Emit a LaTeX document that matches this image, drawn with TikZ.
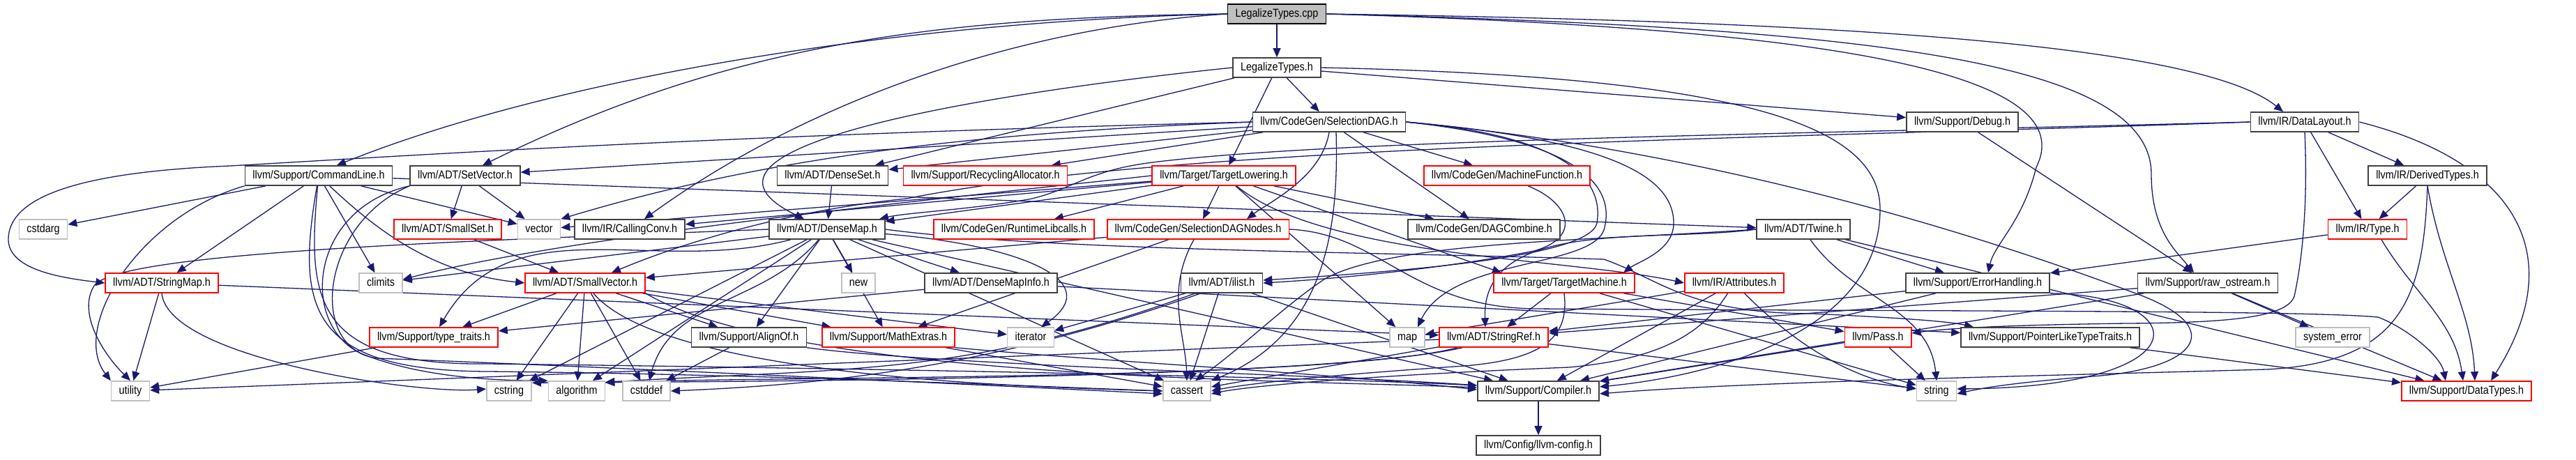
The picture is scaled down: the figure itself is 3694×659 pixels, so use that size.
\documentclass[tikz,border=0pt]{standalone}
\usepackage{fontspec}
\newfontfamily\dotfont{Liberation Sans}[FakeStretch=0.87]
\usetikzlibrary{arrows.meta,backgrounds}
\definecolor{edgeblue}{HTML}{191970}
\definecolor{grey25}{HTML}{404040}
\definecolor{grey75}{HTML}{BFBFBF}
\tikzset{
  hdr/.style={draw=grey25, fill=white, line width=1.6pt, minimum height=28pt, inner xsep=11pt, inner ysep=0pt,
    text height=12pt, text depth=3.5pt, font=\dotfont\fontsize{16.5}{18}\selectfont},
  roothdr/.style={hdr, draw=black, fill=grey75},
  cuthdr/.style={hdr, draw=red},
  syshdr/.style={hdr, draw=grey75},
  inc/.style={draw=edgeblue, line width=1.3pt, -{Triangle[length=13pt,width=11pt]}},
}

\begin{document}
\begin{tikzpicture}[x=1pt,y=1pt]
\useasboundingbox (0,0) rectangle (3694,-659);

\node[roothdr] (cpp) at (1831,-20) {LegalizeTypes.cpp};
\node[hdr] (lth) at (1831,-97) {LegalizeTypes.h};
\node[hdr] (sdag) at (1906,-175) {llvm/CodeGen/SelectionDAG.h};
\node[hdr] (debug) at (2814,-175) {llvm/Support/Debug.h};
\node[hdr] (dlayout) at (3305,-175) {llvm/IR/DataLayout.h};
\node[hdr] (cmdline) at (457,-252) {llvm/Support/CommandLine.h};
\node[hdr] (setvec) at (667,-252) {llvm/ADT/SetVector.h};
\node[hdr] (denseset) at (1194,-252) {llvm/ADT/DenseSet.h};
\node[cuthdr] (recyc) at (1413,-252) {llvm/Support/RecyclingAllocator.h};
\node[cuthdr] (tlower) at (1755,-252) {llvm/Target/TargetLowering.h};
\node[cuthdr] (mfunc) at (2161,-252) {llvm/CodeGen/MachineFunction.h};
\node[hdr] (dtypes) at (3481,-252) {llvm/IR/DerivedTypes.h};
\node[syshdr] (cstdarg) at (62,-329) {cstdarg};
\node[cuthdr] (smallset) at (642,-329) {llvm/ADT/SmallSet.h};
\node[syshdr] (vector) at (773,-329) {vector};
\node[hdr] (cconv) at (903,-329) {llvm/IR/CallingConv.h};
\node[hdr] (densemap) at (1186,-329) {llvm/ADT/DenseMap.h};
\node[cuthdr] (rtlib) at (1454,-329) {llvm/CodeGen/RuntimeLibcalls.h};
\node[cuthdr] (sdnodes) at (1718,-329) {llvm/CodeGen/SelectionDAGNodes.h};
\node[hdr] (dagcomb) at (2128,-329) {llvm/CodeGen/DAGCombine.h};
\node[hdr] (twine) at (2586,-329) {llvm/ADT/Twine.h};
\node[cuthdr] (type) at (3395,-329) {llvm/IR/Type.h};
\node[cuthdr] (strmap) at (232,-406) {llvm/ADT/StringMap.h};
\node[syshdr] (climits) at (546,-406) {climits};
\node[cuthdr] (smallvec) at (839,-406) {llvm/ADT/SmallVector.h};
\node[syshdr] (new) at (1231,-406) {new};
\node[hdr] (dminfo) at (1421,-406) {llvm/ADT/DenseMapInfo.h};
\node[hdr] (ilist) at (1752,-406) {llvm/ADT/ilist.h};
\node[cuthdr] (tmach) at (2243,-406) {llvm/Target/TargetMachine.h};
\node[cuthdr] (attrs) at (2487,-406) {llvm/IR/Attributes.h};
\node[hdr] (errh) at (2836,-406) {llvm/Support/ErrorHandling.h};
\node[hdr] (rawos) at (3166,-406) {llvm/Support/raw\_ostream.h};
\node[cuthdr] (ttraits) at (622,-484) {llvm/Support/type\_traits.h};
\node[hdr] (alignof) at (1074,-484) {llvm/Support/AlignOf.h};
\node[cuthdr] (mathex) at (1274,-484) {llvm/Support/MathExtras.h};
\node[syshdr] (iterator) at (1478,-484) {iterator};
\node[syshdr] (map) at (2018,-484) {map};
\node[cuthdr] (strref) at (2142,-484) {llvm/ADT/StringRef.h};
\node[cuthdr] (pass) at (2693,-484) {llvm/Pass.h};
\node[hdr] (pltt) at (2940,-484) {llvm/Support/PointerLikeTypeTraits.h};
\node[syshdr] (syserr) at (3345,-484) {system\_error};
\node[syshdr] (utility) at (187,-561) {utility};
\node[syshdr] (cstring) at (730,-561) {cstring};
\node[syshdr] (algorithm) at (827,-561) {algorithm};
\node[syshdr] (cstddef) at (927,-561) {cstddef};
\node[syshdr] (cassert) at (1702,-561) {cassert};
\node[hdr] (compiler) at (2206,-561) {llvm/Support/Compiler.h};
\node[syshdr] (string) at (2777,-561) {string};
\node[cuthdr] (datatypes) at (3537,-561) {llvm/Support/DataTypes.h};
\node[hdr] (llvmcfg) at (2206,-639) {llvm/Config/llvm-config.h};

\begin{scope}[on background layer]
\draw[inc] (cpp) -- (lth);
\draw[inc] (cpp.west) .. controls (1300,-30) and (800,-110) .. ([xshift=26pt]cmdline.north);
\draw[inc] (cpp.west) .. controls (1350,-25) and (1050,-60) .. ([xshift=25pt]setvec.north);
\draw[inc] (cpp.west) .. controls (1450,-40) and (1150,-150) .. ([xshift=21pt]cconv.north);
\draw[inc] (cpp.east) .. controls (2600,-30) and (3150,-60) .. ([xshift=-31pt]dlayout.north);
\draw[inc] (cpp.east) .. controls (2700,-40) and (3085,-90) .. (3085,-250) .. controls (3085,-330) and (3120,-360) .. ([xshift=-20pt]rawos.north);
\draw[inc] (cpp.east) .. controls (2600,-40) and (2990,-100) .. (2920,-240) .. controls (2900,-320) and (2860,-350) .. ([xshift=15pt]errh.north);

\draw[inc] (lth) -- (sdag);
\draw[inc] (lth) -- (tlower);
\draw[inc] (lth) -- (denseset);
\draw[inc] (lth.west) .. controls (1524,-122) and (920,-200) .. ([xshift=-33pt]densemap.north);
\draw[inc] (lth) -- (debug);
\draw[inc] (lth.east) .. controls (2500,-110) and (2696,-180) .. (2696,-300) .. controls (2696,-480) and (2450,-540) .. ([yshift=6pt]compiler.east);

\draw[inc] (sdag) -- (denseset);
\draw[inc] (sdag) -- (setvec);
\draw[inc] (sdag.west) .. controls (1000,-195) and (560,-225) .. (330,-238) .. controls (160,-245) and (10,-270) .. (12,-345) .. controls (14,-385) and (80,-398) .. (strmap.west);
\draw[inc] (sdag.east) .. controls (2250,-195) and (2300,-260) .. (2290,-320) .. controls (2280,-370) and (2000,-390) .. ([yshift=4pt]ilist.east);
\draw[inc] (sdag) -- (dagcomb);
\draw[inc] (sdag) -- (mfunc);
\draw[inc] (sdag.south) .. controls (1895,-255) and (1820,-290) .. ([xshift=70pt]sdnodes.north);
\draw[inc] (sdag) -- (recyc);
\draw[inc] (sdag.east) .. controls (2300,-200) and (2400,-250) .. (2400,-320) .. controls (2400,-360) and (2350,-375) .. ([xshift=85pt]tmach.north);
\draw[inc] ([xshift=10pt]sdag.south) .. controls (1920,-330) and (1900,-480) .. (cassert.north east);
\draw[inc] (sdag.east) .. controls (2250,-200) and (2320,-260) .. (2300,-330) .. controls (2280,-385) and (2080,-370) .. ([xshift=15pt]map.north);
\draw[inc] (sdag.east) .. controls (2500,-220) and (2900,-360) .. (3060,-420) .. controls (3200,-470) and (3150,-530) .. (3000,-540) .. controls (2900,-548) and (2850,-555) .. ([yshift=-4pt]string.east);
\draw[inc] (sdag.west) .. controls (1400,-190) and (1100,-225) .. (vector.north east);

\draw[inc] (debug) -- (rawos);

\draw[inc] (dlayout.west) .. controls (2600,-192) and (1900,-200) .. (1645,-234) .. controls (1560,-246) and (1540,-270) .. (1480,-285) .. controls (1400,-300) and (1300,-305) .. ([xshift=75pt]densemap.north);
\draw[inc] (dlayout.west) .. controls (2600,-198) and (1700,-205) .. (1300,-285) .. controls (1150,-300) and (1000,-340) .. ([xshift=38pt]smallvec.north);
\draw[inc] (dlayout) -- (dtypes);
\draw[inc] (dlayout) -- (type);
\draw[inc] (dlayout.south) .. controls (3310,-300) and (3300,-380) .. (3290,-425) .. controls (3280,-455) and (3200,-463) .. (3050,-464) .. controls (2900,-466) and (2800,-470) .. ([yshift=6pt]pass.east);
\draw[inc] (dlayout.east) .. controls (3600,-230) and (3690,-360) .. ([xshift=35pt]datatypes.north);

\draw[inc] (cmdline) .. controls (540,-330) and (620,-392) .. (smallvec.west);
\draw[inc] (cmdline) -- (strmap);
\draw[inc] (cmdline) -- (twine);
\draw[inc] (cmdline) .. controls (440,-430) and (450,-525) .. (700,-522) .. controls (1200,-528) and (1850,-540) .. ([yshift=8pt]compiler.west);
\draw[inc] (cmdline) .. controls (425,-440) and (440,-532) .. (700,-533) .. controls (1100,-537) and (1500,-555) .. (cassert.west);
\draw[inc] (cmdline) -- (climits);
\draw[inc] (cmdline) -- (cstdarg);
\draw[inc] (cmdline.south west) .. controls (200,-310) and (100,-470) .. (utility.north west);
\draw[inc] (cmdline) -- (vector);

\draw[inc] (setvec) -- (smallset);
\draw[inc] (setvec) -- (vector);
\draw[inc] (setvec.south west) .. controls (440,-300) and (430,-470) .. (520,-508) .. controls (600,-540) and (700,-546) .. (algorithm.north west);
\draw[inc] (setvec.south west) .. controls (460,-320) and (440,-500) .. (540,-514) .. controls (900,-528) and (1400,-552) .. ([yshift=-4pt]cassert.west);

\draw[inc] (denseset) -- (densemap);

\draw[inc] (tlower) -- (densemap);
\draw[inc] (tlower) -- (dagcomb);
\draw[inc] (tlower) -- (rtlib);
\draw[inc] (tlower) -- (sdnodes);
\draw[inc] (tlower) .. controls (1900,-370) and (2250,-370) .. (attrs.west);
\draw[inc] (tlower) -- (cconv);
\draw[inc] (tlower) -- ([xshift=-90pt]tmach.north);
\draw[inc] (tlower.west) .. controls (1399,-280) and (824,-336) .. ([yshift=5pt]climits.east);
\draw[inc] (tlower) -- (map);
\draw[inc] (tlower) -- (vector);

\draw[inc] ([xshift=30pt]mfunc.south) .. controls (2250,-290) and (2270,-340) .. (2200,-360) .. controls (2100,-380) and (1950,-398) .. (ilist.east);

\draw[inc] (dtypes) -- (type);
\draw[inc] (dtypes.south) .. controls (3475,-420) and (3450,-520) .. (3250,-530) .. controls (2900,-540) and (2500,-548) .. ([yshift=-4pt]compiler.east);
\draw[inc] (dtypes.south) .. controls (3500,-380) and (3545,-450) .. ([xshift=12pt]datatypes.north);

\draw[inc] (smallset) -- (smallvec);

\draw[inc] (densemap) -- (dminfo);
\draw[inc] (densemap) -- (alignof);
\draw[inc] (densemap) -- (compiler);
\draw[inc] (densemap) -- (mathex);
\draw[inc] (densemap.east) .. controls (1500,-360) and (2000,-362) .. (2300,-372) .. controls (2380,-400) and (2420,-450) .. (2600,-450) .. controls (2700,-455) and (2790,-460) .. ([xshift=-110pt]pltt.north);
\draw[inc] ([xshift=-52pt]densemap.south) .. controls (935,-396) and (733,-292) .. ([xshift=8pt]ttraits.north);
\draw[inc] (densemap) -- (algorithm);
\draw[inc] (densemap) -- (cassert);
\draw[inc] (densemap) -- (climits);
\draw[inc] ([xshift=-12pt]densemap.south) .. controls (1094,-438) and (963,-427) .. ([xshift=4pt]cstddef.north);
\draw[inc] (densemap) -- (cstring);
\draw[inc] (densemap) .. controls (1450,-350) and (1590,-400) .. ([xshift=15pt]iterator.north);
\draw[inc] (densemap) -- (new);
\draw[inc] (densemap.west) .. controls (700,-345) and (170,-360) .. (135,-410) .. controls (110,-450) and (150,-510) .. (utility.north);

\draw[inc] (sdnodes) -- (smallvec);
\draw[inc] (sdnodes) -- (mathex);
\draw[inc] ([xshift=-6pt]sdnodes.south) .. controls (1670,-420) and (1700,-480) .. (cassert.north);
\draw[inc] (sdnodes.east) .. controls (1980,-335) and (2020,-440) .. (2200,-443) .. controls (2800,-447) and (3300,-445) .. (3410,-455) .. controls (3450,-470) and (3500,-510) .. ([xshift=-30pt]datatypes.north);

\draw[inc] (twine.west) .. controls (2366,-349) and (2124,-312) .. ([xshift=-12pt]strref.north);
\draw[inc] (twine) -- (datatypes);
\draw[inc] (twine) -- (errh);
\draw[inc] (twine.west) .. controls (2300,-345) and (2000,-345) .. (1900,-400) .. controls (1840,-440) and (1780,-500) .. ([xshift=12pt]cassert.north);
\draw[inc] ([xshift=10pt]twine.south) .. controls (2657,-430) and (2766,-441) .. (string.north);

\draw[inc] (type) -- (errh);
\draw[inc] ([xshift=20pt]type.south) .. controls (3460,-420) and (3520,-460) .. ([xshift=-5pt]datatypes.north);

\draw[inc] (strmap) -- (utility);
\draw[inc] (strmap.south) .. controls (241,-515) and (602,-566) .. ([yshift=3pt]cstring.west);
\draw[inc] (strmap) -- (strref);

\draw[inc] (smallvec) -- (ttraits);
\draw[inc] (smallvec) -- (alignof);
\draw[inc] (smallvec) -- (mathex);
\draw[inc] (smallvec) -- (cstring);
\draw[inc] (smallvec) -- (algorithm);
\draw[inc] (smallvec) -- (cstddef);
\draw[inc] ([xshift=12pt]smallvec.south) .. controls (955,-544) and (1505,-556) .. (cassert.west);
\draw[inc] (smallvec.south east) .. controls (1136,-545) and (1850,-545) .. ([yshift=5pt]compiler.west);
\draw[inc] (smallvec) -- (iterator);

\draw[inc] (dminfo) -- (pltt);
\draw[inc] (dminfo) -- (ttraits);

\draw[inc] (ilist) -- (compiler);
\draw[inc] ([xshift=-38pt]ilist.south) .. controls (1385,-540) and (1218,-528) .. ([yshift=-2pt]algorithm.north east);
\draw[inc] (ilist) -- (cassert);
\draw[inc] ([xshift=-30pt]ilist.south) .. controls (1400,-535) and (1150,-553) .. (cstddef.east);
\draw[inc] (ilist) -- (iterator);

\draw[inc] (tmach) -- (strref);
\draw[inc] (tmach) -- (pass);
\draw[inc] (tmach.south) .. controls (2250,-480) and (2220,-515) .. (2100,-525) .. controls (1950,-535) and (1800,-548) .. (cassert.east);
\draw[inc] (tmach) -- (string);

\draw[inc] (attrs) -- (compiler);
\draw[inc] (attrs) .. controls (2440,-480) and (2380,-515) .. (2250,-527) .. controls (2000,-537) and (1800,-552) .. ([yshift=-4pt]cassert.east);
\draw[inc] (attrs) -- (map);
\draw[inc] (attrs) .. controls (2560,-480) and (2640,-540) .. ([yshift=3pt]string.west);

\draw[inc] (errh) -- (strref);
\draw[inc] (errh) -- (compiler);
\draw[inc] (errh.south east) .. controls (3150,-425) and (3160,-555) .. ([yshift=3pt]string.east);

\draw[inc] (rawos) -- (strref);
\draw[inc] (rawos) -- (syserr);
\draw[inc] (rawos) -- (datatypes);
\draw[inc] (rawos) -- (compiler);

\draw[inc] (ttraits) -- (utility);
\draw[inc] (alignof.south east) .. controls (1342,-524) and (1930,-539) .. ([yshift=8pt]compiler.west);
\draw[inc] (alignof) -- (cstddef);
\draw[inc] (mathex.south east) .. controls (1600,-520) and (1900,-535) .. ([yshift=2pt]compiler.west);
\draw[inc] (mathex) -- (cassert);

\draw[inc] ([xshift=-52pt]strref.south) .. controls (1906,-547) and (1059,-540) .. ([yshift=-3pt]algorithm.north east);
\draw[inc] (strref) -- (cassert);
\draw[inc] ([xshift=-45pt]strref.south) .. controls (1900,-545) and (1000,-548) .. ([yshift=-3pt]cstring.north east);
\draw[inc] (strref) -- (string);
\draw[inc] (strref) -- (utility);

\draw[inc] (pass) -- (compiler);
\draw[inc] (pass) -- (string);
\draw[inc] (pltt) -- (datatypes);
\draw[inc] (compiler) -- (llvmcfg);
\end{scope}
\end{tikzpicture}
\end{document}
